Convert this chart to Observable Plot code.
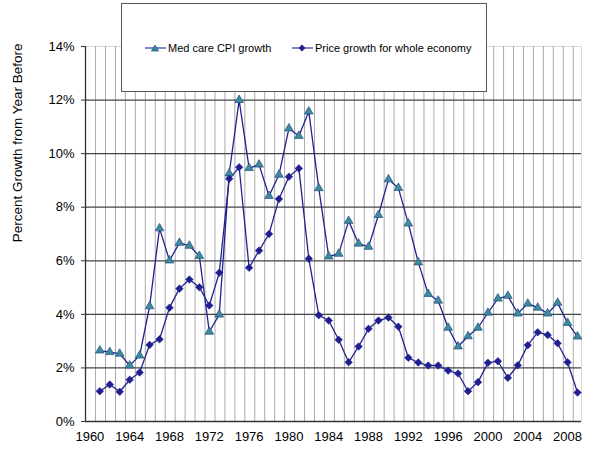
<!DOCTYPE html>
<html>
<head>
<meta charset="utf-8">
<script src="https://cdn.jsdelivr.net/npm/d3@7"></script>
<script src="https://cdn.jsdelivr.net/npm/@observablehq/plot@0.6"></script>
<style>
  html, body { margin: 0; padding: 0; background: #fff; }
  #wrap { position: relative; width: 605px; height: 461px; font-family: "Liberation Sans", Arial, sans-serif; }
  #legend { position: absolute; left: 121px; top: 3px; width: 364px; height: 87px; background: #fff;
            border: 1.5px solid #555; box-sizing: content-box; }
  #legend .item { position: absolute; top: 38px; font-size: 11px; color: #000; display: flex; align-items: center; white-space: nowrap; }
  #legend svg { display: block; margin-right: 2px; }
</style>
</head>
<body>
<div id="wrap">
  <div id="chart"></div>
  <div id="legend"></div>
</div>
<script>
// ---- data ----
const years = d3.range(1961, 2010);
const medCareCPI = [
  2.65, 2.59, 2.53, 2.09, 2.46, 4.30, 7.21, 6.01, 6.67, 6.56,
  6.18, 3.35, 3.99, 9.26, 12.0, 9.46, 9.59, 8.42, 9.21, 10.94,
  10.66, 11.57, 8.71, 6.16, 6.26, 7.49, 6.64, 6.52, 7.71, 9.04,
  8.72, 7.39, 5.94, 4.76, 4.51, 3.50, 2.80, 3.18, 3.50, 4.06,
  4.59, 4.69, 4.03, 4.40, 4.25, 4.03, 4.43, 3.68, 3.17
];
const priceGrowth = [
  1.13, 1.38, 1.11, 1.56, 1.83, 2.86, 3.07, 4.25, 4.96, 5.30,
  5.01, 4.33, 5.55, 9.06, 9.49, 5.74, 6.38, 7.00, 8.31, 9.14,
  9.45, 6.08, 3.97, 3.77, 3.05, 2.21, 2.80, 3.46, 3.77, 3.88,
  3.54, 2.38, 2.20, 2.09, 2.09, 1.90, 1.79, 1.13, 1.47, 2.19,
  2.25, 1.63, 2.10, 2.85, 3.33, 3.23, 2.92, 2.21, 1.08
];
const seriesNames = ["Med care CPI growth", "Price growth for whole economy"];
const xTicks = d3.range(1960, 2009, 4);
const yTicks = [0, 2, 4, 6, 8, 10, 12, 14];
const yLabel = "Percent Growth from Year Before";

const med = years.map((y, i) => ({year: y, v: medCareCPI[i]}));
const price = years.map((y, i) => ({year: y, v: priceGrowth[i]}));
const xDomain = [1959.56, 2009.4];
const gridYears = years.map(y => y - 0.43);

const lineColor = "#22228f";
const triFill = "#3d8c9c";
const triStroke = "#1f4c85";
const diaFill = "#1f1f90";

const chart = Plot.plot({
  width: 605,
  height: 461,
  marginLeft: 85,
  marginRight: 24,
  marginTop: 46,
  marginBottom: 40,
  style: {fontFamily: "Liberation Sans, Arial, sans-serif", fontSize: "13px", color: "#000", background: "#fff"},
  x: {domain: xDomain, ticks: xTicks, tickFormat: d => String(d), tickSize: 0, tickPadding: 10, label: null},
  y: {domain: [0, 14], ticks: yTicks, tickFormat: d => d + "%", tickSize: 4, tickPadding: 7, label: null},
  marks: [
    Plot.frame({stroke: "#d8d8d8"}),
    Plot.ruleX(gridYears, {stroke: "#aaaaaa", strokeWidth: 1}),
    Plot.ruleY(yTicks.filter(t => t > 0 && t < 14), {stroke: "#444", strokeWidth: 1.3}),
    Plot.ruleY([0], {stroke: "#333", strokeWidth: 1.3}),
    Plot.ruleX([xDomain[0]], {stroke: "#333", strokeWidth: 1.3}),
    Plot.axisX({ticks: xTicks, tickFormat: d => String(d), tickSize: 0, tickPadding: 10, fill: "#000", fontSize: 13}),
    Plot.axisY({ticks: yTicks, tickFormat: d => d + "%", tickSize: 4, tickPadding: 7, stroke: "#333", fill: "#000", fontSize: 13}),
    Plot.line(med, {x: "year", y: "v", stroke: lineColor, strokeWidth: 1.3}),
    Plot.line(price, {x: "year", y: "v", stroke: lineColor, strokeWidth: 1.3}),
    Plot.dot(med, {x: "year", y: "v", symbol: "triangle", r: 3.2, fill: triFill, stroke: triStroke, strokeWidth: 0.7}),
    Plot.dot(price, {x: "year", y: "v", symbol: "diamond2", r: 3.4, fill: diaFill, stroke: diaFill, strokeWidth: 0.6}),
    Plot.text([yLabel], {frameAnchor: "top-left", dx: -73, dy: -3, rotate: -90, textAnchor: "end", fontSize: 13.5, fill: "#000"})
  ]
});
document.getElementById("chart").appendChild(chart);

// ---- legend ----
const legend = document.getElementById("legend");
const legendPos = [23, 170];
seriesNames.forEach((name, i) => {
  const item = document.createElement("div");
  item.className = "item";
  item.style.left = legendPos[i] + "px";
  const sym = i === 0
    ? `<path d="M10,3 L13.6,9 L6.4,9 Z" fill="${triFill}" stroke="${triStroke}" stroke-width="0.7"/>`
    : `<path d="M10,2.4 L13.4,6 L10,9.6 L6.6,6 Z" fill="${diaFill}"/>`;
  item.innerHTML = `<svg width="21" height="12"><line x1="0" y1="6" x2="21" y2="6" stroke="#5a5ab8" stroke-width="1.5"/>${sym}</svg><span>${name}</span>`;
  legend.appendChild(item);
});
</script>
</body>
</html>
